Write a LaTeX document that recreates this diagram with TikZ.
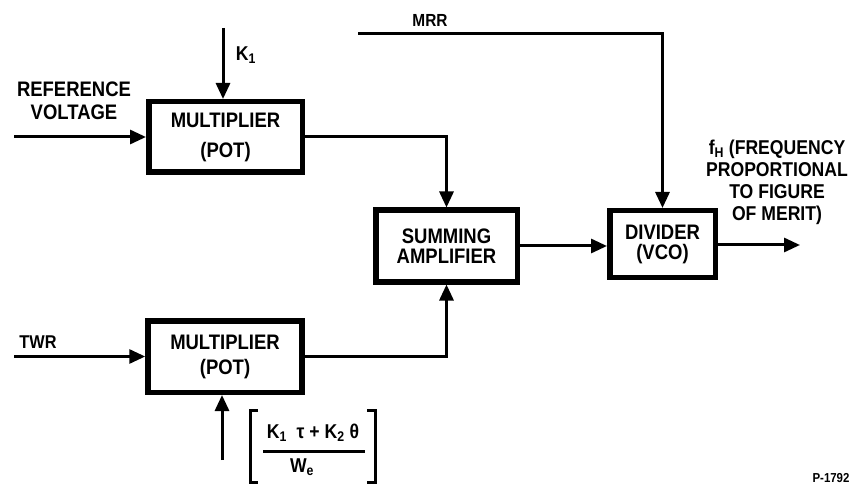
\documentclass[tikz,border=0pt]{standalone}
\usepackage{fontspec}
\setmainfont{Liberation Sans}[FakeStretch=0.88]
\usetikzlibrary{arrows.meta,calc}
\newcommand{\fsz}[2]{\bfseries\fontsize{#1}{#2}\selectfont}
\begin{document}
\begin{tikzpicture}[x=1pt,y=-1pt,
  blk/.style={draw, line width=5.5pt, align=center, inner sep=0pt},
  conn/.style={line width=3pt, -{Triangle[length=16pt,width=14pt]}},
  wire/.style={line width=3pt},
  lab/.style={align=center, inner sep=0pt, font=\fsz{20}{22}}]
\useasboundingbox (0,0) rectangle (856,486);

% blocks
\node[blk, minimum width=153.5pt, minimum height=70.5pt, font=\fsz{21}{30}] (m1) at (225.5,137) {MULTIPLIER\\(POT)};
\node[blk, minimum width=154pt, minimum height=71.5pt, font=\fsz{21}{25}] (m2) at (225,356.5) {MULTIPLIER\\(POT)};
\node[blk, minimum width=141.5pt, minimum height=71.5pt, font=\fsz{21}{20}] (sum) at (446.5,246) {SUMMING\\AMPLIFIER};
\node[blk, minimum width=105.5pt, minimum height=66.5pt, font=\fsz{21}{20}] (div) at (662.5,244) {DIVIDER\\(VCO)};

% labels
\node[lab, font=\fsz{21}{23}] (refl) at (74,101) {REFERENCE\\VOLTAGE};
\node[lab] (k1l) at (246,55) {K\textsubscript{1}};
\node[lab, font=\fsz{17.5}{19}] (mrrl) at (430,20) {MRR};
\node[lab, font=\fsz{18.5}{20}] (twrl) at (38,342) {TWR};
\node[lab] (fhl) at (777,182) {f\textsubscript{H} (FREQUENCY\\PROPORTIONAL\\TO FIGURE\\OF MERIT)};
\node[lab, font=\fsz{13}{15}] (pl) at (831,478) {P-1792};

% input coordinates
\coordinate (refin) at (14,137);
\coordinate (k1in) at (223,28);
\coordinate (twrin) at (14,356.5);
\coordinate (botin) at (222,460);
\coordinate (mrrin) at (358,34);
\coordinate (fout) at (800,245);

% connectors
\draw[conn] (refin) -- (m1.west);
\draw[conn] (k1in) -- (k1in |- m1.north);
\draw[conn] (m1.east) -- (sum.north |- m1.east) -- (sum.north);
\draw[conn] (twrin) -- (m2.west);
\draw[conn] (botin) -- (botin |- m2.south);
\draw[conn] (m2.east) -- (sum.south |- m2.east) -- (sum.south);
\draw[conn] (mrrin) -- (div.north |- mrrin) -- (div.north);
\draw[conn] (sum.east) -- (sum.east -| div.west);
\draw[conn] (div.east |- fout) -- (fout);

% bracketed expression
\node[lab, font=\fsz{20}{22}] (num) at (313,433) {K\textsubscript{1}~~τ~+~K\textsubscript{2}~θ};
\node[lab, font=\fsz{20}{22}] (den) at (302,467) {W\textsubscript{e}};
\draw[wire] (263,451) -- (365,451);
\draw[wire] (258,410) -- (250,410) -- (250,482) -- (258,482);
\draw[wire] (367,410) -- (375,410) -- (375,482) -- (367,482);
\end{tikzpicture}
\end{document}
